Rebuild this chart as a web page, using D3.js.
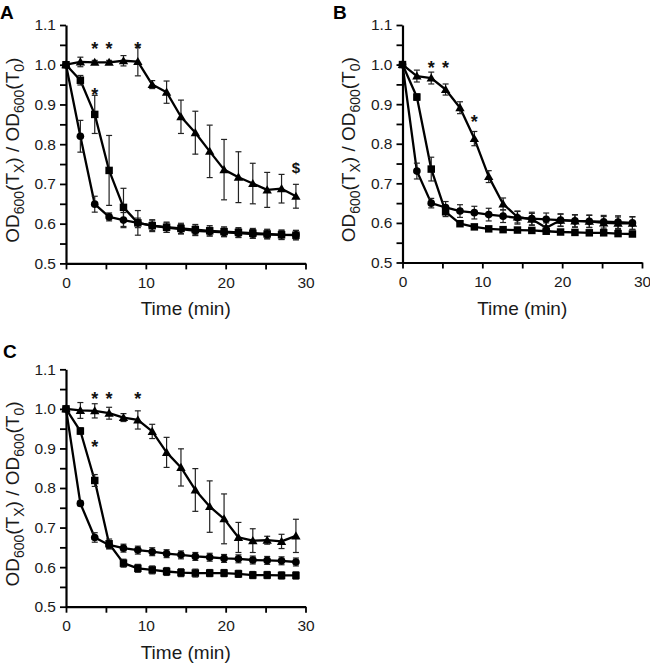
<!DOCTYPE html>
<html>
<head>
<meta charset="utf-8">
<script src="https://cdn.jsdelivr.net/npm/d3@7"></script>
<style>
  html, body { margin: 0; padding: 0; background: #fff; }
  svg { display: block; font-family: "Liberation Sans", Arial, sans-serif; }
</style>
</head>
<body>
<svg id="chart" width="650" height="664"></svg>
<script>
// ---------------- DATA ----------------
const times = [0, 1.8, 3.6, 5.4, 7.2, 9.0, 10.8, 12.6, 14.4, 16.2, 18.0, 19.8, 21.6, 23.4, 25.2, 27.0, 28.8];

// Panel A
const aTriangle    = [1.0, 1.007, 1.006, 1.006, 1.010, 1.008, 0.950, 0.931, 0.869, 0.829, 0.782, 0.736, 0.717, 0.701, 0.685, 0.688, 0.669];
const aTriangleErr = [0.0, 0.012, 0.005, 0.005, 0.013, 0.036, 0.010, 0.028, 0.042, 0.054, 0.066, 0.076, 0.064, 0.051, 0.044, 0.036, 0.030];
const aSquare      = [1.0, 0.961, 0.875, 0.734, 0.641, 0.602, 0.595, 0.591, 0.588, 0.585, 0.582, 0.580, 0.578, 0.576, 0.574, 0.572, 0.571];
const aSquareErr   = [0.0, 0.012, 0.048, 0.088, 0.048, 0.031, 0.015, 0.013, 0.013, 0.013, 0.013, 0.012, 0.012, 0.012, 0.012, 0.012, 0.012];
const aCircle      = [1.0, 0.820, 0.649, 0.617, 0.609, 0.602, 0.595, 0.590, 0.586, 0.582, 0.580, 0.578, 0.576, 0.574, 0.573, 0.572, 0.572];
const aCircleErr   = [0.0, 0.040, 0.020, 0.010, 0.019, 0.012, 0.012, 0.012, 0.012, 0.012, 0.011, 0.011, 0.011, 0.011, 0.011, 0.011, 0.011];

// Panel B
const bTriangle    = [1.0, 0.971, 0.966, 0.937, 0.891, 0.813, 0.717, 0.648, 0.615, 0.609, 0.588, 0.607, 0.605, 0.604, 0.600, 0.599, 0.599];
const bTriangleErr = [0.0, 0.015, 0.015, 0.014, 0.015, 0.018, 0.015, 0.015, 0.015, 0.015, 0.012, 0.015, 0.015, 0.015, 0.016, 0.016, 0.016];
const bSquare      = [1.0, 0.918, 0.736, 0.628, 0.598, 0.590, 0.585, 0.583, 0.582, 0.581, 0.579, 0.577, 0.576, 0.575, 0.575, 0.573, 0.572];
const bSquareErr   = [0.0, 0.008, 0.030, 0.012, 0.006, 0.005, 0.005, 0.005, 0.005, 0.005, 0.005, 0.005, 0.005, 0.005, 0.005, 0.005, 0.005];
const bCircle      = [1.0, 0.731, 0.650, 0.639, 0.630, 0.626, 0.621, 0.617, 0.613, 0.611, 0.609, 0.607, 0.605, 0.604, 0.603, 0.602, 0.600];
const bCircleErr   = [0.0, 0.020, 0.012, 0.015, 0.016, 0.016, 0.016, 0.016, 0.016, 0.016, 0.016, 0.016, 0.016, 0.016, 0.016, 0.016, 0.016];

// Panel C
const cTriangle    = [1.0, 0.996, 0.995, 0.989, 0.978, 0.972, 0.943, 0.890, 0.852, 0.795, 0.753, 0.722, 0.675, 0.667, 0.668, 0.665, 0.679];
const cTriangleErr = [0.0, 0.020, 0.018, 0.015, 0.010, 0.023, 0.018, 0.038, 0.047, 0.054, 0.065, 0.063, 0.038, 0.030, 0.010, 0.018, 0.042];
const cSquare      = [1.0, 0.944, 0.819, 0.659, 0.610, 0.597, 0.593, 0.589, 0.586, 0.585, 0.585, 0.585, 0.583, 0.580, 0.580, 0.579, 0.579];
const cSquareErr   = [0.0, 0.008, 0.015, 0.012, 0.010, 0.010, 0.010, 0.010, 0.010, 0.010, 0.009, 0.009, 0.009, 0.009, 0.009, 0.009, 0.009];
const cCircle      = [1.0, 0.761, 0.675, 0.656, 0.648, 0.643, 0.639, 0.634, 0.631, 0.627, 0.625, 0.622, 0.621, 0.618, 0.617, 0.616, 0.613];
const cCircleErr   = [0.0, 0.006, 0.012, 0.010, 0.010, 0.010, 0.010, 0.010, 0.010, 0.010, 0.010, 0.010, 0.010, 0.010, 0.010, 0.010, 0.010];

// Annotations (time, OD ratio, symbol)
const aMarks = [[3.6, 1.057, "*"], [5.4, 1.057, "*"], [9.0, 1.057, "*"], [3.6, 0.942, "*"], [28.8, 0.740, "$"]];
const bMarks = [[3.6, 1.008, "*"], [5.4, 1.008, "*"], [9.0, 0.872, "*"]];
const cMarks = [[3.6, 1.042, "*"], [5.4, 1.042, "*"], [9.0, 1.042, "*"], [3.6, 0.921, "*"]];

const xMajor = [0, 10, 20, 30];
const xMinor = [5, 15, 25];
const yMajor = [0.5, 0.6, 0.7, 0.8, 0.9, 1.0, 1.1];
const yMinor = [0.55, 0.65, 0.75, 0.85, 0.95, 1.05];
const panelLetters = ["A", "B", "C"];

// ---------------- DRAW ----------------
const svg = d3.select("#chart");

const panels = [
  { letter: panelLetters[0], x0: 66, x1: 305.5, y0: 25, y1: 263.4, lx: 0, ly: 18.5,
    series: [[aTriangle, aTriangleErr, "tri"], [aSquare, aSquareErr, "sq"], [aCircle, aCircleErr, "circ"]], marks: aMarks },
  { letter: panelLetters[1], x0: 402.5, x1: 642, y0: 25, y1: 262.5, lx: 333, ly: 18.5,
    series: [[bTriangle, bTriangleErr, "tri"], [bSquare, bSquareErr, "sq"], [bCircle, bCircleErr, "circ"]], marks: bMarks },
  { letter: panelLetters[2], x0: 66, x1: 305.5, y0: 369.3, y1: 606.7, lx: 3, ly: 358,
    series: [[cTriangle, cTriangleErr, "tri"], [cSquare, cSquareErr, "sq"], [cCircle, cCircleErr, "circ"]], marks: cMarks }
];

panels.forEach(p => {
  const x = d3.scaleLinear().domain([0, 30]).range([p.x0, p.x1]);
  const y = d3.scaleLinear().domain([0.5, 1.1]).range([p.y1, p.y0]);
  const g = svg.append("g");

  // Panel letter
  g.append("text").attr("x", p.lx).attr("y", p.ly)
    .attr("font-size", 19).attr("font-weight", "bold").text(p.letter);

  // Axes
  const xAxis = d3.axisBottom(x).tickValues(xMajor.concat(xMinor).sort((a, b) => a - b))
    .tickSize(6).tickSizeOuter(0).tickPadding(5)
    .tickFormat(d => xMajor.includes(d) ? d3.format("d")(d) : "");
  const yAxis = d3.axisLeft(y).tickValues(yMajor.concat(yMinor).sort((a, b) => a - b))
    .tickSize(6).tickSizeOuter(0).tickPadding(4)
    .tickFormat(d => yMajor.some(v => Math.abs(v - d) < 1e-9) ? d3.format(".1f")(d) : "");

  const gx = g.append("g").attr("transform", `translate(0,${p.y1})`).call(xAxis);
  const gy = g.append("g").attr("transform", `translate(${p.x0},0)`).call(yAxis);
  [gx, gy].forEach(ax => {
    ax.select(".domain").attr("stroke", "#000").attr("stroke-width", 2.2);
    ax.selectAll(".tick line").attr("stroke", "#000").attr("stroke-width", 1.8);
    ax.selectAll(".tick text").attr("font-size", 15.5).attr("fill", "#1a1a1a")
      .attr("font-family", "'Liberation Sans', Arial, sans-serif");
  });
  gx.selectAll(".tick text").attr("dy", "0.85em");

  // Axis titles
  g.append("text")
    .attr("x", (p.x0 + p.x1) / 2).attr("y", p.y1 + 52)
    .attr("text-anchor", "middle").attr("font-size", 19).attr("fill", "#1a1a1a")
    .text("Time (min)");

  const yl = g.append("text")
    .attr("transform", `translate(${p.x0 - 47.5},${(p.y0 + p.y1) / 2 + 6}) rotate(-90)`)
    .attr("text-anchor", "middle").attr("font-size", 19).attr("fill", "#1a1a1a");
  const parts = [["OD", 0], ["600", 1], ["(T", 0], ["X", 1], [") / OD", 0], ["600", 1], ["(T", 0], ["0", 1], [")", 0]];
  let prevSub = 0;
  parts.forEach(([t, sub]) => {
    const ts = yl.append("tspan").text(t);
    if (sub) ts.attr("font-size", 14);
    const shift = (sub - prevSub) * 5;
    if (shift !== 0) ts.attr("dy", shift);
    prevSub = sub;
  });

  // Lines
  const line = d3.line().x((d, i) => x(times[i])).y(d => y(d));
  p.series.forEach(([vals]) => {
    g.append("path").datum(vals).attr("d", line)
      .attr("fill", "none").attr("stroke", "#000").attr("stroke-width", 2.3)
      .attr("stroke-linejoin", "round");
  });

  // Error bars
  p.series.forEach(([vals, errs]) => {
    const eb = g.append("g").attr("stroke", "#222").attr("stroke-width", 1.2);
    vals.forEach((v, i) => {
      const e = errs[i];
      if (e <= 0) return;
      const cx = x(times[i]);
      eb.append("line").attr("x1", cx).attr("x2", cx).attr("y1", y(v - e)).attr("y2", y(v + e));
      eb.append("line").attr("x1", cx - 3).attr("x2", cx + 3).attr("y1", y(v + e)).attr("y2", y(v + e));
      eb.append("line").attr("x1", cx - 3).attr("x2", cx + 3).attr("y1", y(v - e)).attr("y2", y(v - e));
    });
  });

  // Markers
  const symTypes = { tri: d3.symbolTriangle, sq: d3.symbolSquare, circ: d3.symbolCircle };
  const symSizes = { tri: 38, sq: 56, circ: 46 };
  p.series.forEach(([vals, errs, kind]) => {
    const sym = d3.symbol().type(symTypes[kind]).size(symSizes[kind]);
    g.append("g").selectAll("path").data(vals).join("path")
      .attr("transform", (d, i) => `translate(${x(times[i])},${y(d) + (kind === "tri" ? 0.8 : 0)})`)
      .attr("d", sym).attr("fill", "#000");
  });

  // Significance marks
  g.append("g").selectAll("text").data(p.marks).join("text")
    .attr("x", d => x(d[0])).attr("y", d => y(d[1]))
    .attr("text-anchor", "middle")
    .attr("dy", d => d[2] === "*" ? "0.72em" : "0.35em")
    .attr("font-size", d => d[2] === "*" ? 18 : 15)
    .attr("font-weight", "bold").attr("fill", "#111")
    .text(d => d[2]);
});
</script>
</body>
</html>
